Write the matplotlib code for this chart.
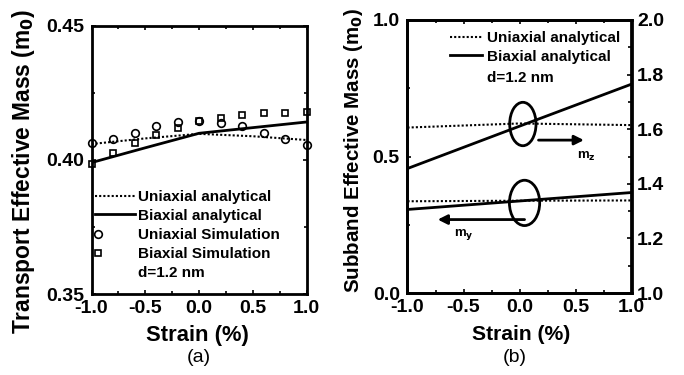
import matplotlib
matplotlib.use("Agg")
import matplotlib.pyplot as plt
from matplotlib.patches import Ellipse
from matplotlib.ticker import MultipleLocator

plt.rcParams["font.family"] = ["Liberation Sans", "DejaVu Sans"]
plt.rcParams["font.weight"] = "bold"
plt.rcParams["axes.labelweight"] = "bold"
plt.rcParams["mathtext.default"] = "bf"

# (a) transport effective mass
strain_sim = [-1.0, -0.8, -0.6, -0.4, -0.2, 0.0, 0.2, 0.4, 0.6, 0.8, 1.0]
uni_sim = [0.4064, 0.4077, 0.4101, 0.4126, 0.4141, 0.4146, 0.4136, 0.4126, 0.4101, 0.4077, 0.4056]
bi_sim = [0.3985, 0.4025, 0.4064, 0.4094, 0.4119, 0.4146, 0.4156, 0.4168, 0.4173, 0.4175, 0.4180]
strain_ana = [-1.0, -0.5, 0.0, 0.5, 1.0]
uni_ana = [0.4059, 0.4080, 0.4097, 0.4088, 0.4074]
bi_ana = [0.3990, 0.4045, 0.4099, 0.4120, 0.4141]

# (b) subband effective mass
strain_b = [-1.0, 0.0, 1.0]
mz_uni = [1.606, 1.621, 1.615]
mz_bi = [1.456, 1.611, 1.765]
my_uni = [0.336, 0.338, 0.339]
my_bi = [0.306, 0.337, 0.368]

fig = plt.figure(figsize=(6.84, 3.75), dpi=100)
ax1 = fig.add_axes([91.5 / 684, 1 - 294.3 / 375, 215 / 684, 268.8 / 375])
ax2 = fig.add_axes([407.5 / 684, 1 - 293 / 375, 224 / 684, 273 / 375])

TICK = 14
LEG = 11


def style(ax, xlab_size):
    for s in ax.spines.values():
        s.set_linewidth(2)
    ax.tick_params(direction="in", top=True, right=True, width=1.2, length=3,
                   labelsize=TICK)
    ax.tick_params(axis="x", pad=4)
    ax.tick_params(axis="y", pad=5.5)
    ax.tick_params(which="minor", direction="in", top=True, right=True, width=1.2, length=2)
    ax.xaxis.set_major_locator(MultipleLocator(0.5))
    ax.xaxis.set_minor_locator(MultipleLocator(0.25))
    ax.xaxis.set_major_formatter(lambda v, p: f"{v:.1f}")
    ax.set_xlim(-1, 1)
    ax.set_xlabel("Strain (%)", fontsize=xlab_size, fontweight="bold")


# panel (a)
style(ax1, 15.8)
l1, = ax1.plot(strain_ana, uni_ana, color="black", ls=(0, (1, 1)), lw=1.5)
l2, = ax1.plot(strain_ana, bi_ana, color="black", lw=2)
m1, = ax1.plot(strain_sim, uni_sim, "o", mfc="none", mec="black", ms=5.5, mew=1.2, clip_on=False)
m2, = ax1.plot(strain_sim, bi_sim, "s", mfc="none", mec="black", ms=5, mew=1.2, clip_on=False)
ax1.set_ylim(0.35, 0.45)
ax1.yaxis.set_major_locator(MultipleLocator(0.05))
ax1.yaxis.set_minor_locator(MultipleLocator(0.025))
ax1.yaxis.set_major_formatter(lambda v, p: f"{v:.2f}")
ax1.set_ylabel("Transport Effective Mass (m$_\\mathbf{0}$)", fontsize=16.4, fontweight="bold")
ax1.yaxis.set_label_coords(-0.253, 0.457)
ax1.xaxis.set_label_coords(0.491, -0.114)
leg_prop = {"size": LEG, "weight": "bold"}
leg_a = ax1.legend([l1, l2], ["Uniaxial analytical", "Biaxial analytical"],
                   loc="upper left", bbox_to_anchor=(0.016, 0.388), frameon=False, prop=leg_prop,
                   handlelength=2.6, handletextpad=0.2, labelspacing=0.3, borderpad=0, borderaxespad=0)
ax1.add_artist(leg_a)
ax1.legend([m1, m2], ["Uniaxial Simulation", "Biaxial Simulation"],
           loc="upper left", bbox_to_anchor=(0.0, 0.245), frameon=False, prop=leg_prop, numpoints=1,
           handlelength=0.9, handletextpad=2.15, labelspacing=0.3, borderpad=0, borderaxespad=0)
ax1.text(0.216, 0.079, "d=1.2 nm", transform=ax1.transAxes, fontsize=LEG, fontweight="bold", va="center")
fig.text(199 / 684, 1 - 358 / 375, "(a)", ha="center", va="center", fontsize=14, fontweight="normal")

# panel (b)
style(ax2, 15.2)
ax2.tick_params(right=False)
ax2.tick_params(which="minor", right=False)
b1, = ax2.plot(strain_b, [v - 1 for v in mz_uni], color="black", ls=(0, (1, 1)), lw=1.5)
b2, = ax2.plot(strain_b, [v - 1 for v in mz_bi], color="black", lw=2)
ax2.plot(strain_b, my_uni, color="black", ls=(0, (1, 1)), lw=1.5)
ax2.plot(strain_b, my_bi, color="black", lw=2)
ax2.set_ylim(0, 1)
ax2.yaxis.set_major_locator(MultipleLocator(0.5))
ax2.yaxis.set_minor_locator(MultipleLocator(0.25))
ax2.yaxis.set_major_formatter(lambda v, p: f"{v:.1f}")
ax2.set_ylabel("Subband Effective Mass (m$_\\mathbf{0}$)", fontsize=14.8, fontweight="bold")
ax2.yaxis.set_label_coords(-0.19, 0.524)
ax2.xaxis.set_label_coords(0.507, -0.118)
ax2.legend([b1, b2], ["Uniaxial analytical", "Biaxial analytical"],
           loc="upper left", bbox_to_anchor=(0.19, 0.96), frameon=False, prop=leg_prop,
           handlelength=2.1, handletextpad=0.3, labelspacing=0.3, borderpad=0, borderaxespad=0)
ax2.text(0.355, 0.787, "d=1.2 nm", transform=ax2.transAxes, fontsize=LEG, fontweight="bold", va="center")

ax2r = ax2.twinx()
ax2r.set_ylim(1, 2)
ax2r.yaxis.set_major_locator(MultipleLocator(0.2))
ax2r.yaxis.set_minor_locator(MultipleLocator(0.1))
ax2r.yaxis.set_major_formatter(lambda v, p: f"{v:.1f}")
ax2r.tick_params(direction="in", width=1.2, length=3, labelsize=TICK, pad=4)
ax2r.tick_params(which="minor", direction="in", width=1.2, length=2)
for s in ax2r.spines.values():
    s.set_linewidth(2)

ax2.add_patch(Ellipse((0.03, 0.619), 0.235, 0.159, fill=False, lw=2, color="black"))
ax2.add_patch(Ellipse((0.045, 0.33), 0.27, 0.166, fill=False, lw=2, color="black"))
ax2.annotate("", xy=(0.6, 0.56), xytext=(0.145, 0.56),
             arrowprops=dict(arrowstyle="-|>", color="black", lw=2, mutation_scale=14))
ax2.annotate("", xy=(-0.755, 0.269), xytext=(0.07, 0.269),
             arrowprops=dict(arrowstyle="-|>", color="black", lw=2, mutation_scale=14))
ax2.text(0.6, 0.50, "m$_\\mathbf{z}$", fontsize=9.5, ha="center", va="center")
ax2.text(-0.5, 0.215, "m$_\\mathbf{y}$", fontsize=9.5, ha="center", va="center")
fig.text(515 / 684, 1 - 358 / 375, "(b)", ha="center", va="center", fontsize=14, fontweight="normal")

for ax in (ax1, ax2, ax2r):
    for t in ax.get_xticklabels() + ax.get_yticklabels():
        t.set_fontweight("bold")

fig.savefig("out.png", dpi=100)
